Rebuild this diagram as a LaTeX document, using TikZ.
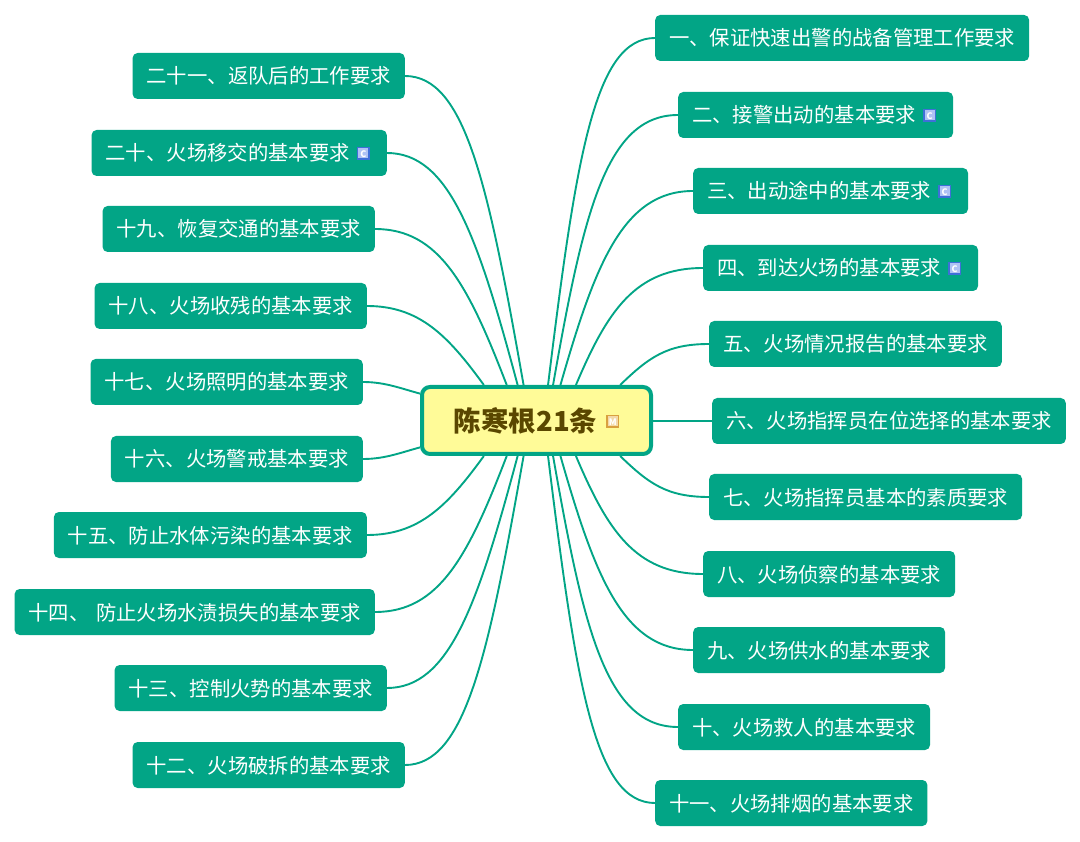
\documentclass[tikz,border=0pt]{standalone}
\usepackage{fontspec}
\setmainfont{Noto Sans CJK SC}
\usepackage{tikz}
\definecolor{topicgreen}{HTML}{02A586}
\definecolor{rootyellow}{HTML}{FFFB98}
\definecolor{rootbrown}{HTML}{5A4700}
\definecolor{iconblue}{HTML}{3F6FD8}
\definecolor{iconpale}{HTML}{AFC2F4}
\definecolor{iconorange}{HTML}{D9A03F}
\definecolor{iconcream}{HTML}{F3D9A8}
\newcommand{\cicon}{\hspace{7pt}\raisebox{3.5pt}{\setlength{\fboxsep}{0pt}\setlength{\fboxrule}{1.5pt}\fcolorbox{iconblue}{iconpale}{\makebox[10pt][c]{\rule[-1pt]{0pt}{10pt}\fontsize{9}{9}\selectfont\bfseries\textcolor{white}{C}}}}\kern3pt}
\newcommand{\micon}{\hspace{9pt}\raisebox{6pt}{\setlength{\fboxsep}{0pt}\setlength{\fboxrule}{1.5pt}\fcolorbox{iconorange}{iconcream}{\makebox[10pt][c]{\rule[-1pt]{0pt}{10pt}\fontsize{9}{9}\selectfont\bfseries\textcolor{white}{M}}}}}
\tikzset{
    topic/.style={fill=topicgreen, text=white, rounded corners=5pt, minimum height=46pt, inner xsep=14pt, inner ysep=0pt, text height=18pt, text depth=2pt, font=\fontsize{20.35}{24}\selectfont},
    rootbox/.style={draw=topicgreen, line width=4pt, fill=rootyellow, text=rootbrown, rounded corners=8pt, minimum width=229pt, minimum height=67pt, inner sep=0pt, font=\fontsize{27.5}{32}\selectfont\bfseries},
    branch/.style={draw=topicgreen, line width=1.9pt}
}
\begin{document}
\begin{tikzpicture}[x=1pt,y=-1pt]
    \useasboundingbox (0,0) rectangle (1080,842);
    \node[rootbox] (root) at (536.5,420.5) {陈寒根21条\micon};

    % right side
    \foreach \n/\x/\y/\t in {
        n1/655/38/一、保证快速出警的战备管理工作要求,
        n2/678/115/二、接警出动的基本要求\cicon,
        n3/693/191/三、出动途中的基本要求\cicon,
        n4/703/268/四、到达火场的基本要求\cicon,
        n5/709/344/五、火场情况报告的基本要求,
        n6/712/421/六、火场指挥员在位选择的基本要求,
        n7/709/497/七、火场指挥员基本的素质要求,
        n8/703/574/八、火场侦察的基本要求,
        n9/693/650/九、火场供水的基本要求,
        n10/678/727/十、火场救人的基本要求,
        n11/655/803/十一、火场排烟的基本要求}
        {\node[topic, anchor=west] (\n) at (\x,\y) {\t};}

    % left side
    \foreach \n/\x/\y/\t in {
        n12/405/765/十二、火场破拆的基本要求,
        n13/387/688/十三、控制火势的基本要求,
        n14/375/612/十四、 \kern2pt防止火场水渍损失的基本要求,
        n15/367/535/十五、防止水体污染的基本要求,
        n16/363/459/十六、火场警戒基本要求,
        n17/363/382/十七、火场照明的基本要求,
        n18/367/306/十八、火场收残的基本要求,
        n19/375/229/十九、恢复交通的基本要求,
        n20/387/153/二十、火场移交的基本要求\cicon,
        n21/405/76/二十一、返队后的工作要求}
        {\node[topic, anchor=east] (\n) at (\x,\y) {\t};}

    % anchor on root / leaving angle / leaving distance / arriving distance
    \foreach \n/\a/\o/\d/\e in {
        n1/72/83/233/60, n2/65/80/175/72, n3/56.4/74/125/70, n4/42.7/67/80/68, n5/23.8/44/40/42,
        n7/-23.8/-44/40/42, n8/-42.7/-67/80/68, n9/-56.4/-74/125/70, n10/-65/-80/175/72, n11/-72/-83/233/60}
        {\draw[branch] (root.\a) to[out=\o, in=180, out distance=\d pt, in distance=\e pt] (\n.west);}
    \foreach \n/\a/\o/\d/\e in {
        n21/110.8/100/205/60, n20/118.8/105/155/62, n19/130.7/111/108/64, n18/146.4/126/62/52, n17/167.2/165/20/22,
        n16/-167.2/-165/20/22, n15/-146.4/-126/62/52, n14/-130.7/-111/108/64, n13/-118.8/-105/155/62, n12/-110.8/-100/205/60}
        {\draw[branch] (root.\a) to[out=\o, in=0, out distance=\d pt, in distance=\e pt] (\n.east);}
    \draw[branch] (root.east |- n6.west) -- (n6.west);
\end{tikzpicture}
\end{document}
